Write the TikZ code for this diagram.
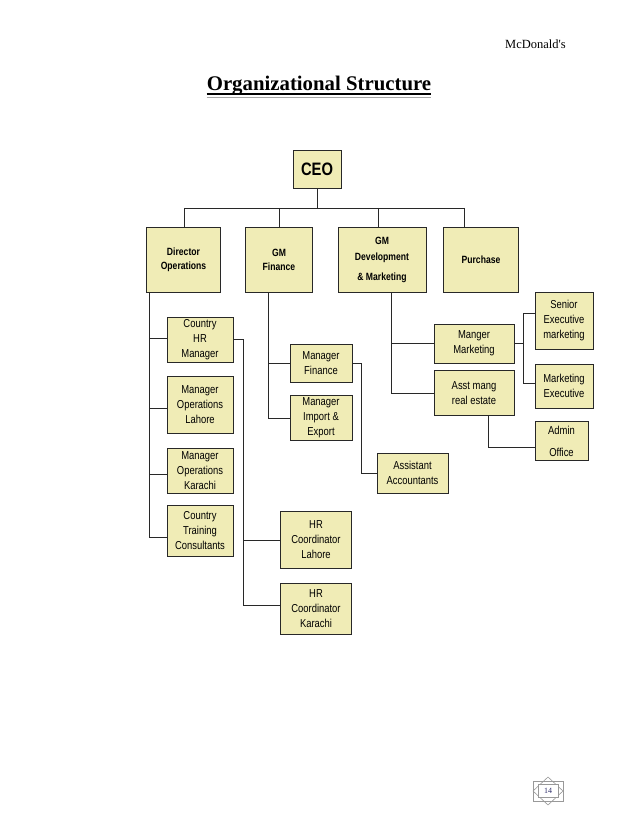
\documentclass[tikz,border=0pt]{standalone}
\usepackage{fontspec}
\setmainfont{Liberation Serif}
\newfontfamily\boxfont[FakeStretch=0.82]{Liberation Sans}
\usetikzlibrary{calc}
\definecolor{boxyellow}{RGB}{240,236,182}
\definecolor{linegray}{RGB}{40,40,40}
\tikzset{
  post/.style={draw=linegray, fill=boxyellow, line width=0.8pt, inner sep=1pt, align=center,
    font=\boxfont\fontsize{11.5}{15}\selectfont},
  head/.style={post, minimum height=65pt, font=\boxfont\bfseries\fontsize{10.5}{14}\selectfont},
  link/.style={draw=linegray, line width=0.8pt},
}
\begin{document}
\begin{tikzpicture}[x=1pt,y=-1pt]
    \useasboundingbox (0,0) rectangle (638,826);

    % Header and title
    \node[anchor=base east, inner sep=0, font=\fontsize{12.5}{14}\selectfont] (hdr) at (566,49) {McDonald\textquotesingle s};
    \node[anchor=base, inner sep=0, font=\bfseries\fontsize{20.8}{24}\selectfont] (title) at (319,91) {Organizational Structure};
    \draw[line width=1.3pt] ([yshift=-3pt]title.base west) -- ([yshift=-3pt]title.base east);
    \draw[line width=1.5pt, gray!70] ([yshift=-6.5pt]title.base west) -- ([yshift=-6.5pt]title.base east);

    % Top level
    \node[post, minimum width=48pt, minimum height=38pt, font=\boxfont\bfseries\fontsize{18}{20}\selectfont] (ceo) at (317,169) {CEO};

    \node[head, minimum width=74pt] (dirops) at (183.5,259.5) {Director\\Operations};
    \node[head, minimum width=67pt] (gmfin) at (279,259.5) {GM\\Finance};
    \node[head, minimum width=88pt] (gmdev) at (382,259.5) {GM\\[2pt]Development\\[6pt]\& Marketing};
    \node[head, minimum width=75pt] (purch) at (481,259.5) {Purchase};

    % Bus under the CEO
    \coordinate (busl) at (184,208);
    \coordinate (busr) at (464,208);
    \coordinate (devtop) at ([xshift=-4pt]gmdev.north);
    \draw[link] (busl) -- (busr);
    \draw[link] (ceo.south) -- (ceo.south |- busl);
    \draw[link] (busl) -- (busl |- dirops.north);
    \draw[link] (gmfin.north |- busl) -- (gmfin.north);
    \draw[link] (devtop |- busl) -- (devtop);
    \draw[link] (busr) -- (busr |- purch.north);

    % Operations side
    \node[post, minimum width=66pt, minimum height=45pt] (chrm) at (200,339.5) {Country\\HR\\Manager};
    \node[post, minimum width=66pt, minimum height=57pt] (mol) at (200,405) {Manager\\Operations\\Lahore};
    \node[post, minimum width=66pt, minimum height=45pt] (mok) at (200,470.5) {Manager\\Operations\\Karachi};
    \node[post, minimum width=66pt, minimum height=51pt] (ctc) at (200,530.5) {Country\\Training\\Consultants};
    \node[post, minimum width=71pt, minimum height=57pt] (hrl) at (316,540) {HR\\Coordinator\\Lahore};
    \node[post, minimum width=71pt, minimum height=51pt] (hrk) at (316,608.5) {HR\\Coordinator\\Karachi};

    \coordinate (dspine) at ([xshift=3pt]dirops.south west);
    \draw[link] (dspine) |- ([yshift=-7pt]ctc.west);
    \foreach \n/\s in {chrm/1pt, mol/-3pt, mok/-4pt}
        \draw[link] ([yshift=\s]\n.west) -- +(-17.5,0);

    \coordinate (hrspine) at ($(chrm.east)+(10,0)$);
    \draw[link] (chrm.east) -- (hrspine) |- ([yshift=3pt]hrk.west);
    \draw[link] (hrl.west) -- (hrl.west -| hrspine);

    % Finance side
    \node[post, minimum width=62pt, minimum height=38pt] (mfin) at (321,363) {Manager\\Finance};
    \node[post, minimum width=62pt, minimum height=45pt] (mie) at (321,418) {Manager\\Import \&\\Export};
    \node[post, minimum width=71pt, minimum height=40pt] (aacc) at (412.5,473) {Assistant\\Accountants};

    \coordinate (fspine) at ([xshift=-11pt]gmfin.south);
    \draw[link] (fspine) |- (mie.west);
    \draw[link] (mfin.west) -- (mfin.west -| fspine);
    \draw[link] (mfin.east) -- ++(9,0) |- (aacc.west);

    % Development & marketing side
    \node[post, minimum width=80pt, minimum height=39pt] (mmkt) at (474,343.5) {Manger\\Marketing};
    \node[post, minimum width=80pt, minimum height=45pt] (amre) at (474,393) {Asst mang\\real estate};
    \node[post, minimum width=58pt, minimum height=57pt] (sem) at (564,321) {Senior\\Executive\\marketing};
    \node[post, minimum width=58pt, minimum height=44pt] (mex) at (564,386) {Marketing\\Executive};
    \node[post, minimum width=53pt, minimum height=39pt] (admin) at (561.5,441) {Admin\\[7pt]Office};

    \coordinate (dvspine) at ([xshift=9pt]gmdev.south);
    \draw[link] (dvspine) |- (amre.west);
    \draw[link] (mmkt.west) -- (mmkt.west -| dvspine);
    \coordinate (mkspine) at ($(mmkt.east)+(9,0)$);
    \draw[link] (mmkt.east) -- (mkspine);
    \draw[link] ([yshift=8pt]sem.west) -| (mkspine) |- ([yshift=3pt]mex.west);
    \draw[link] ([xshift=14pt]amre.south) |- ([yshift=-6pt]admin.west);

    % Page number ornament
    \draw[gray!80, line width=0.6pt] (533,781) rectangle (563,801);
    \draw[gray!80, line width=0.6pt] (548,777) -- (563,791) -- (548,805) -- (533,791) -- cycle;
    \node[draw=gray!80, fill=white, line width=0.6pt, minimum width=20pt, minimum height=13pt, inner sep=0,
      text=gray!60!blue!60!black, font=\fontsize{8}{9}\selectfont] (pgnum) at (548,791) {14};
\end{tikzpicture}
\end{document}
